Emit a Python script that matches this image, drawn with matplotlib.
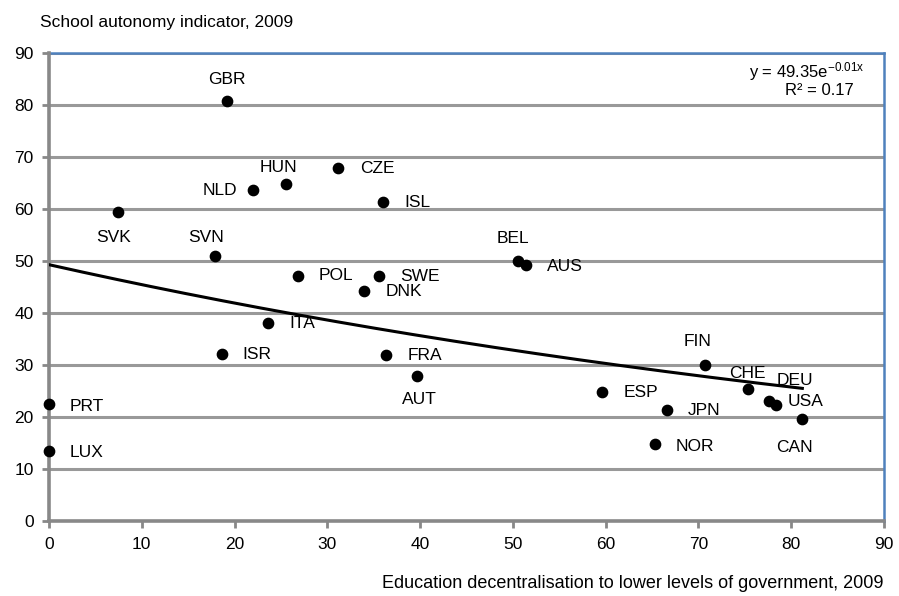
import numpy as np
import matplotlib
matplotlib.use("Agg")
import matplotlib.pyplot as plt

FONT = ['Liberation Sans Narrow', 'Liberation Sans', 'DejaVu Sans']
plt.rcParams['font.family'] = FONT
plt.rcParams['mathtext.fontset'] = 'custom'
plt.rcParams['mathtext.rm'] = 'Liberation Sans'
plt.rcParams['mathtext.it'] = 'Liberation Sans'

countries = ['GBR', 'NLD', 'HUN', 'CZE', 'ISL', 'SVK', 'SVN', 'POL', 'SWE', 'DNK',
             'BEL', 'AUS', 'ITA', 'ISR', 'FRA', 'AUT', 'FIN', 'CHE', 'DEU', 'USA',
             'CAN', 'ESP', 'JPN', 'NOR', 'PRT', 'LUX']
decentralisation = [19.2, 22.0, 25.5, 31.2, 36.0, 7.4, 17.9, 26.8, 35.6, 33.9,
                    50.6, 51.4, 23.6, 18.6, 36.3, 39.7, 70.7, 75.3, 77.6, 78.4,
                    81.2, 59.6, 66.6, 65.3, 0.0, 0.0]
autonomy = [80.9, 63.7, 64.8, 67.9, 61.4, 59.4, 51.0, 47.2, 47.2, 44.2,
            50.1, 49.2, 38.2, 32.1, 32.0, 27.9, 30.1, 25.4, 23.2, 22.3,
            19.7, 24.9, 21.5, 14.8, 22.5, 13.5]
# label offsets in pixels (dx, dy) and alignment
label_pos = {
    'GBR': (0, 21, 'center'), 'NLD': (-16, 0, 'right'), 'HUN': (-7, 17, 'center'),
    'CZE': (22, 0, 'left'), 'ISL': (21, 0, 'left'), 'SVK': (-4, -25, 'center'),
    'SVN': (-9, 19, 'center'), 'POL': (21, 0, 'left'), 'SWE': (21, -1, 'left'),
    'DNK': (22, 0, 'left'), 'BEL': (-6, 22, 'center'), 'AUS': (21, -1, 'left'),
    'ITA': (21, -1, 'left'), 'ISR': (21, 0, 'left'), 'FRA': (22, -1, 'left'),
    'AUT': (2, -23, 'center'), 'FIN': (-7, 23, 'center'), 'CHE': (0, 16, 'center'),
    'DEU': (26, 20, 'center'), 'USA': (11, 4, 'left'), 'CAN': (-8, -29, 'center'),
    'ESP': (22, -1, 'left'), 'JPN': (21, -1, 'left'), 'NOR': (21, -2, 'left'),
    'PRT': (21, -2, 'left'), 'LUX': (21, -1, 'left'),
}
trend_a = 49.35
trend_b = -0.0081
x_ticks = [0, 10, 20, 30, 40, 50, 60, 70, 80, 90]
y_ticks = [0, 10, 20, 30, 40, 50, 60, 70, 80, 90]

fig = plt.figure(figsize=(8.99, 5.96), dpi=100)
ax = fig.add_axes([0.0545, 0.1253, 0.9288, 0.7853])
PX = 0.72

ax.set_xlim(0, 90)
ax.set_ylim(0, 90)
ax.set_xticks(x_ticks)
ax.set_yticks(y_ticks)
ax.yaxis.grid(True, color='#999999', linewidth=2.2)
ax.set_axisbelow(True)

for s in ['top', 'right']:
    ax.spines[s].set_color('#4F81BD')
    ax.spines[s].set_linewidth(1.8)
for s in ['left', 'bottom']:
    ax.spines[s].set_color('#888888')
    ax.spines[s].set_linewidth(2.6)
    ax.spines[s].set_zorder(3)
ax.tick_params(axis='both', direction='out', length=5, width=2, color='#888888',
               labelsize=12.5, pad=6)

xs = np.linspace(0, max(decentralisation), 200)
ax.plot(xs, trend_a * np.exp(trend_b * xs), color='black', linewidth=2.2, zorder=4)

ax.scatter(decentralisation, autonomy, s=55, color='black', zorder=5, clip_on=False)

for c, x, y in zip(countries, decentralisation, autonomy):
    dx, dy, ha = label_pos[c]
    ax.annotate(c, (x, y), xytext=(dx * PX, dy * PX), textcoords='offset points',
                ha=ha, va='center', fontsize=12.5, zorder=6)

ax.text(0.977, 0.962, 'y = 49.35e$^{-0.01x}$', transform=ax.transAxes,
        ha='right', va='center', fontsize=12)
ax.text(0.923, 0.921, 'R² = 0.17', transform=ax.transAxes,
        ha='center', va='center', fontsize=12)

fig.text(40 / 899, 1 - 22 / 596, 'School autonomy indicator, 2009', ha='left',
         va='center', fontsize=12.5)
fig.text(884 / 899, 1 - 583 / 596,
         'Education decentralisation to lower levels of government, 2009',
         ha='right', va='center', fontsize=13)

fig.savefig('out.png', dpi=100)
